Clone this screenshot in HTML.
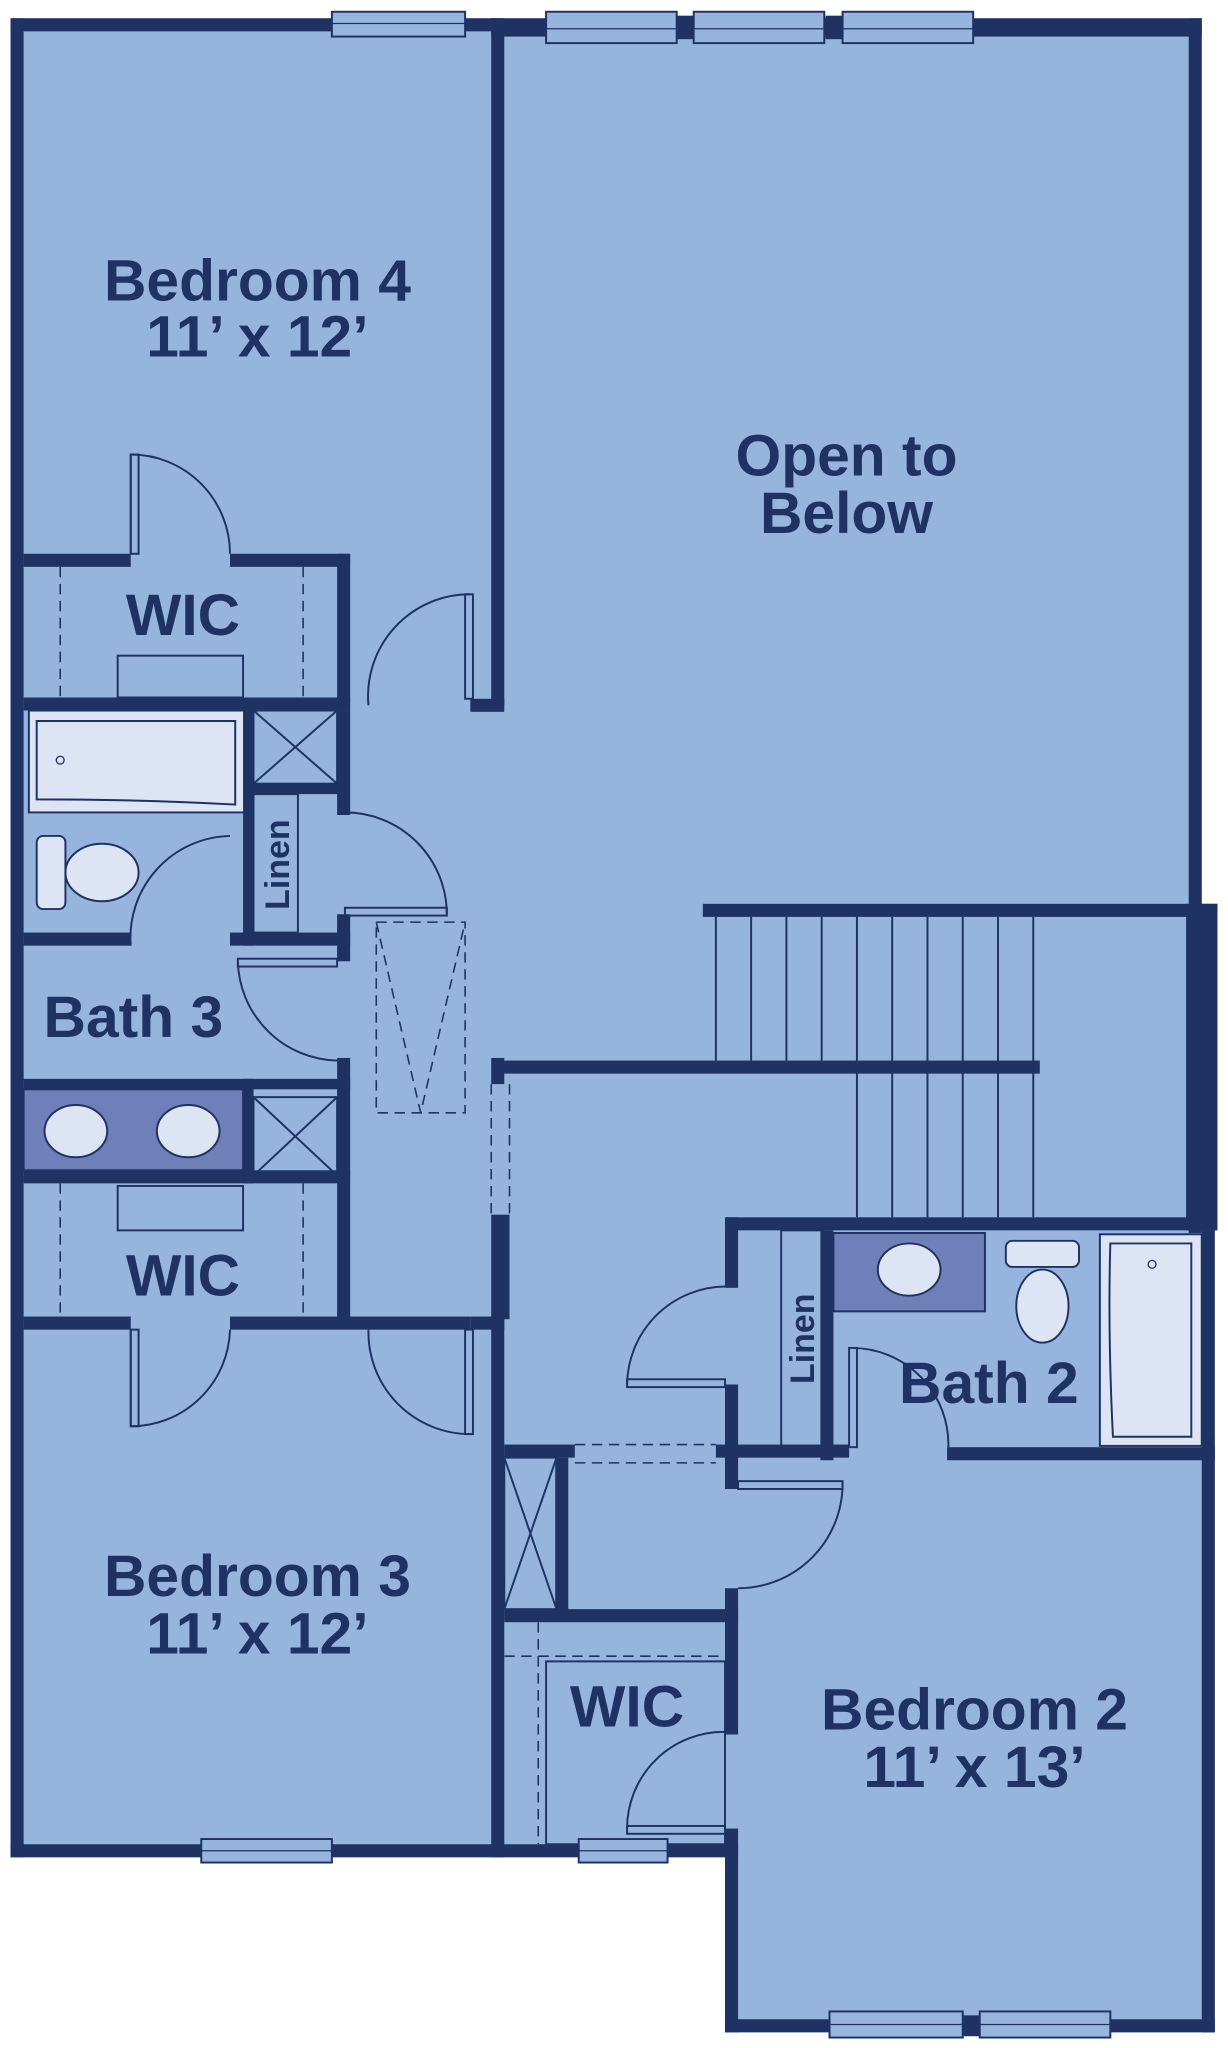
<!DOCTYPE html>
<html><head><meta charset="utf-8"><style>
html,body{margin:0;padding:0;background:#fff;}
svg{display:block;}
text{font-family:"Liberation Sans",sans-serif;fill:#1e3264;font-weight:bold;}
</style></head><body>
<svg width="1228" height="2048" viewBox="0 0 940 1568" xmlns="http://www.w3.org/2000/svg">
<rect width="940" height="1568" fill="#fff"/>
<g fill="#97b4df">
<rect x="8" y="14" width="912" height="1408"/>
<rect x="908" y="692" width="24" height="250"/>
<rect x="555" y="1100" width="375" height="456"/>
</g>
<!-- fixtures -->
<g fill="#dde4f3" stroke="#1e3264" stroke-width="1.5">
<rect x="22" y="544" width="166" height="78"/>
<path d="M28 552 H180 V616 Q110 612 28 612 Z"/>
<rect x="28" y="640" width="22" height="56" rx="5"/>
<ellipse cx="78" cy="668" rx="28" ry="22"/>
<rect x="842" y="945" width="78" height="162"/>
<path d="M850 952 H912 V1100 H852 Q848 1020 850 952Z"/>
<rect x="770" y="950" width="56" height="20" rx="5"/>
<ellipse cx="798" cy="1000" rx="20" ry="28"/>
</g>
<g fill="#6f7fb8" stroke="#1e3264" stroke-width="1.5">
<rect x="18" y="834" width="168" height="62"/>
<rect x="638" y="944" width="116" height="60"/>
</g>
<g fill="#dde4f3" stroke="#1e3264" stroke-width="1.5">
<ellipse cx="58" cy="866" rx="24" ry="20"/><ellipse cx="144" cy="866" rx="24" ry="20"/>
<ellipse cx="696" cy="972" rx="24" ry="20"/>
</g>
<circle cx="46" cy="582" r="3" fill="none" stroke="#1e3264"/>
<circle cx="882" cy="968" r="3" fill="none" stroke="#1e3264"/>
<!-- shafts -->
<g fill="none" stroke="#1e3264" stroke-width="1.5">
<rect x="194" y="544" width="64" height="56"/><path d="M194 544 L258 600 M258 544 L194 600"/>
<rect x="194" y="840" width="64" height="60"/><path d="M194 840 L258 900 M258 840 L194 900"/>
<rect x="386" y="1116" width="40" height="116"/><path d="M386 1116 L426 1232 M426 1116 L386 1232"/>
<rect x="194" y="608" width="34" height="106"/>
<rect x="598" y="942" width="32" height="166"/>
<rect x="90" y="502" width="96" height="32"/>
<rect x="90" y="908" width="96" height="34"/>
<rect x="418" y="1272" width="137" height="140"/>
</g>
<!-- stairs -->
<g stroke="#1e3264" stroke-width="1.5">
<line x1="548" y1="702" x2="548" y2="812"/><line x1="575" y1="702" x2="575" y2="812"/><line x1="602" y1="702" x2="602" y2="812"/><line x1="629" y1="702" x2="629" y2="812"/><line x1="656" y1="702" x2="656" y2="932"/><line x1="683" y1="702" x2="683" y2="932"/><line x1="710" y1="702" x2="710" y2="932"/><line x1="737" y1="702" x2="737" y2="932"/><line x1="764" y1="702" x2="764" y2="932"/><line x1="791" y1="702" x2="791" y2="932"/>
</g>
<!-- dashed -->
<g fill="none" stroke="#1e3264" stroke-width="1.2" stroke-dasharray="8,5">
<rect x="288" y="706" width="68" height="146"/><path d="M288 706 L322 852 L356 706"/>
<line x1="46" y1="434" x2="46" y2="534"/><line x1="232" y1="434" x2="232" y2="534"/>
<line x1="46" y1="906" x2="46" y2="1008"/><line x1="232" y1="906" x2="232" y2="1008"/>
<line x1="376" y1="830" x2="376" y2="930"/><line x1="390" y1="830" x2="390" y2="930"/>
<line x1="440" y1="1106" x2="548" y2="1106"/><line x1="440" y1="1120" x2="548" y2="1120"/>
<line x1="412" y1="1242" x2="412" y2="1412"/><line x1="386" y1="1268" x2="555" y2="1268"/>
</g>
<!-- doors -->
<g fill="none" stroke="#1e3264" stroke-width="1.5">
<path d="M100 424 V348 A76 76 0 0 1 176 424"/><rect x="100" y="348" width="6" height="76"/>
<path d="M282 540 A78 78 0 0 1 360 455"/><rect x="356" y="455" width="6" height="80"/>
<path d="M264 622 A78 78 0 0 1 342 700"/><rect x="264" y="695" width="78" height="6"/>
<path d="M100 724 A78 78 0 0 1 176 640"/>
<path d="M182 736 A78 78 0 0 0 258 812"/><rect x="182" y="734" width="76" height="6"/>
<path d="M100 1018 V1092 A76 76 0 0 0 176 1018"/><rect x="100" y="1018" width="6" height="74"/>
<path d="M282 1018 A78 78 0 0 0 360 1098"/><rect x="356" y="1018" width="6" height="80"/>
<path d="M480 1060 A76 76 0 0 1 555 985"/><rect x="480" y="1056" width="75" height="6"/>
<path d="M565 1216 A80 80 0 0 0 645 1136"/><rect x="565" y="1134" width="80" height="6"/>
<path d="M480 1400 A74 74 0 0 1 555 1326"/><rect x="480" y="1398" width="75" height="6"/>
<path d="M652 1032 A74 74 0 0 1 726 1108"/><rect x="650" y="1032" width="6" height="76"/>
</g>
<!-- walls -->
<g fill="#1e3264">
<rect x="8" y="14" width="10" height="1408"/>
<rect x="8" y="14" width="376" height="10"/>
<rect x="376" y="14" width="544" height="14"/>
<rect x="910" y="14" width="10" height="930"/>
<rect x="908" y="692" width="24" height="250"/>
<rect x="920" y="940" width="10" height="616"/>
<rect x="555" y="1546" width="375" height="10"/>
<rect x="555" y="1400" width="10" height="156"/>
<rect x="8" y="1412" width="557" height="10"/>
<rect x="376" y="14" width="10" height="526"/>
<rect x="360" y="535" width="26" height="10"/>
<rect x="376" y="810" width="10" height="20"/>
<rect x="376" y="930" width="14" height="80"/>
<rect x="360" y="1008" width="26" height="10"/>
<rect x="376" y="1008" width="10" height="414"/>
<rect x="538" y="692" width="394" height="10"/>
<rect x="384" y="812" width="412" height="10"/>
<rect x="18" y="424" width="82" height="10"/><rect x="176" y="424" width="92" height="10"/>
<rect x="258" y="424" width="10" height="114"/>
<rect x="18" y="534" width="250" height="10"/>
<rect x="186" y="544" width="8" height="180"/>
<rect x="194" y="600" width="70" height="8"/>
<rect x="258" y="544" width="10" height="80"/>
<rect x="18" y="714" width="82" height="10"/><rect x="176" y="714" width="92" height="10"/>
<rect x="258" y="700" width="10" height="36"/>
<rect x="258" y="810" width="10" height="200"/>
<rect x="18" y="826" width="250" height="8"/>
<rect x="186" y="826" width="8" height="80"/>
<rect x="18" y="896" width="250" height="10"/>
<rect x="18" y="1008" width="82" height="10"/><rect x="176" y="1008" width="184" height="10"/>
<rect x="555" y="932" width="375" height="10"/>
<rect x="555" y="932" width="10" height="54"/>
<rect x="555" y="1060" width="10" height="80"/>
<rect x="628" y="942" width="10" height="176"/>
<rect x="386" y="1106" width="54" height="10"/><rect x="548" y="1106" width="102" height="10"/>
<rect x="725" y="1108" width="205" height="10"/>
<rect x="425" y="1116" width="10" height="122"/>
<rect x="386" y="1232" width="179" height="10"/>
<rect x="555" y="1216" width="10" height="112"/>
</g>
<!-- windows -->
<g fill="#97b4df" stroke="#1e3264" stroke-width="1.5">
<rect x="254" y="9" width="102" height="19"/>
<rect x="418" y="9" width="100" height="24"/><rect x="531" y="9" width="100" height="24"/><rect x="645" y="9" width="100" height="24"/>
<rect x="154" y="1408" width="100" height="18"/>
<rect x="443" y="1408" width="68" height="18"/>
<rect x="635" y="1540" width="102" height="20"/><rect x="750" y="1540" width="100" height="20"/>
</g>
<g fill="#1e3264"><rect x="518" y="12" width="13" height="18"/><rect x="632" y="12" width="13" height="18"/><rect x="737" y="1543" width="13" height="16"/></g>
<g stroke="#1e3264" stroke-width="1"><line x1="254" y1="18" x2="356" y2="18"/><line x1="418" y1="22" x2="745" y2="22"/><line x1="154" y1="1417" x2="254" y2="1417"/><line x1="443" y1="1417" x2="511" y2="1417"/><line x1="635" y1="1550" x2="850" y2="1550"/></g>
<!-- labels -->
<g font-size="45" text-anchor="middle">
<text x="197" y="230">Bedroom 4</text><text x="197" y="273">11’ x 12’</text>
<text x="648" y="364">Open to</text><text x="648" y="408">Below</text>
<text x="140" y="486">WIC</text>
<text x="102" y="794">Bath 3</text>
<text x="140" y="992">WIC</text>
<text x="197" y="1222">Bedroom 3</text><text x="197" y="1266">11’ x 12’</text>
<text x="480" y="1322">WIC</text>
<text x="757" y="1074">Bath 2</text>
<text x="746" y="1324">Bedroom 2</text><text x="746" y="1368">11’ x 13’</text>
</g>
<text font-size="26" text-anchor="middle" transform="translate(221,662) rotate(-90)">Linen</text>
<text font-size="26" text-anchor="middle" transform="translate(623,1025) rotate(-90)">Linen</text>
</svg>
</body></html>
